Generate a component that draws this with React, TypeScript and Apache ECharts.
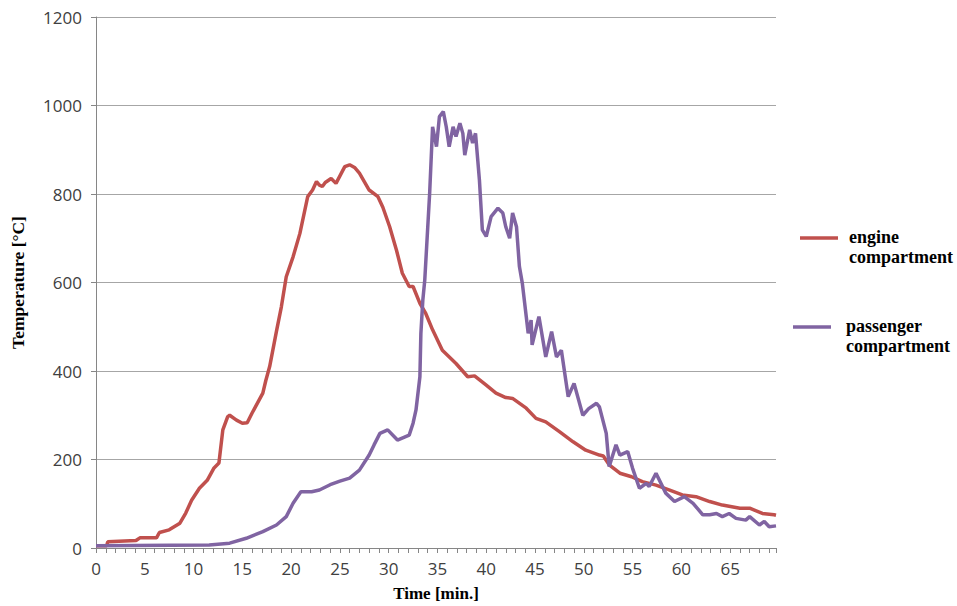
import React, { useEffect, useRef } from "react";
import * as echarts from "echarts";

const engineTime = [0, 1.1, 1.2, 4.1, 4.5, 6.2, 6.5, 7.5, 8.6, 9.2, 9.8, 10.6, 11.4, 12.1, 12.6, 13.0, 13.5, 13.7, 14.4, 15.0, 15.5, 16.0, 17.1, 17.4, 17.8, 18.5, 19.0, 19.5, 20.2, 20.9, 21.7, 22.2, 22.6, 22.9, 23.2, 23.5, 24.1, 24.6, 25.5, 26.0, 26.5, 27.0, 28.0, 28.9, 29.4, 30.1, 30.8, 31.4, 32.1, 32.5, 33.2, 33.8, 34.5, 35.5, 36.9, 38.1, 38.8, 40.0, 41.0, 42.0, 42.7, 44.1, 45.1, 46.1, 47.5, 48.9, 50.2, 51.6, 52.0, 52.6, 53.7, 54.9, 56.0, 57.4, 58.8, 60.1, 61.5, 62.9, 64.2, 66.0, 67.0, 68.3, 69.5, 69.7];
const engineTemp = [5, 5, 14, 17, 23, 23, 35, 41, 56, 79, 108, 135, 153, 181, 192, 267, 297, 300, 289, 282, 283, 305, 350, 378, 410, 490, 545, 613, 658, 711, 794, 809, 828, 820, 817, 826, 835, 824, 862, 866, 860, 847, 809, 794, 770, 726, 673, 621, 591, 591, 553, 530, 493, 447, 417, 387, 389, 368, 350, 340, 338, 316, 293, 285, 263, 240, 221, 210, 208, 188, 169, 161, 150, 142, 131, 120, 116, 105, 97, 90, 90, 78, 75, 74];

const passengerTime = [0, 11.6, 13.7, 15.4, 17.1, 18.5, 19.5, 20.2, 21.0, 22.1, 22.9, 24.0, 25.0, 26.0, 27.0, 28.0, 28.5, 29.1, 29.9, 30.9, 32.1, 32.5, 32.8, 33.2, 33.3, 33.5, 33.7, 34.2, 34.5, 34.9, 35.2, 35.6, 35.9, 36.2, 36.6, 36.9, 37.3, 37.6, 37.8, 38.3, 38.6, 38.9, 39.3, 39.6, 40.0, 40.5, 41.2, 41.7, 42.0, 42.4, 42.7, 43.1, 43.4, 43.7, 44.1, 44.3, 44.6, 44.7, 45.4, 46.1, 46.7, 47.2, 47.7, 48.4, 49.0, 49.9, 50.5, 51.3, 51.6, 52.3, 52.6, 53.3, 53.7, 54.5, 55.0, 55.7, 56.4, 56.7, 57.4, 58.4, 59.3, 60.3, 61.2, 62.2, 62.9, 63.6, 64.2, 64.9, 65.6, 66.6, 67.0, 68.0, 68.5, 69.0, 69.7];
const passengerTemp = [5, 7, 11, 22, 37, 52, 71, 101, 127, 127, 131, 143, 151, 158, 176, 210, 233, 259, 267, 244, 255, 282, 312, 387, 485, 560, 606, 802, 952, 907, 975, 986, 952, 907, 952, 930, 960, 937, 888, 945, 915, 937, 832, 719, 704, 749, 768, 757, 726, 700, 757, 726, 636, 598, 523, 485, 515, 459, 523, 432, 489, 432, 447, 342, 372, 300, 315, 327, 319, 259, 184, 233, 210, 218, 180, 135, 146, 139, 169, 124, 105, 116, 101, 75, 75, 78, 71, 78, 67, 63, 71, 52, 60, 48, 50];

const seriesNames = ["engine\ncompartment", "passenger\ncompartment"];
const xMax = 69.7;
const yTicks = [0, 1200, 200];

const RED = "#c0504d";
const PURPLE = "#8064a2";

export default function App() {
  const ref = useRef<HTMLDivElement>(null);
  useEffect(() => {
    if (!ref.current) return;
    const chart = echarts.init(ref.current, null, { renderer: "svg" });
    const serif = "'Liberation Serif', 'Times New Roman', serif";
    const sans = "'Open Sans', sans-serif";
    chart.setOption({
      animation: false,
      backgroundColor: "#ffffff",
      grid: { left: 96, right: 181, top: 17, bottom: 58, outerBoundsMode: "none", containLabel: false },
      xAxis: {
        type: "value",
        min: 0,
        max: xMax,
        interval: 5,
        name: "Time [min.]",
        nameLocation: "middle",
        nameGap: 37,
        nameTextStyle: { fontFamily: serif, fontWeight: "bold", fontSize: 17, color: "#000" },
        axisLine: { show: true, lineStyle: { color: "#868686", width: 1 } },
        axisTick: { show: true, length: 5, lineStyle: { color: "#868686" } },
        minorTick: { show: true, splitNumber: 5, length: 5, lineStyle: { color: "#868686" } },
        axisLabel: {
          fontFamily: sans,
          fontSize: 17,
          color: "#404040",
          margin: 12,
          showMaxLabel: false,
          formatter: (v: number) => String(v),
        },
        splitLine: { show: false },
      },
      yAxis: {
        type: "value",
        min: yTicks[0],
        max: yTicks[1],
        interval: yTicks[2],
        name: "Temperature [°C]",
        nameLocation: "middle",
        nameGap: 69,
        nameTextStyle: { fontFamily: serif, fontWeight: "bold", fontSize: 17.5, color: "#000" },
        axisLine: { show: true, lineStyle: { color: "#868686", width: 1 } },
        axisTick: { show: true, length: 5, lineStyle: { color: "#868686" } },
        axisLabel: {
          fontFamily: sans,
          fontSize: 17,
          color: "#404040",
          margin: 14,
          formatter: (v: number) => String(v),
        },
        splitLine: { show: true, lineStyle: { color: "#a6a6a6", width: 1 } },
      },
      series: [
        {
          name: seriesNames[0],
          type: "line",
          data: engineTime.map((t, i) => [t, engineTemp[i]]),
          showSymbol: false,
          lineStyle: { color: RED, width: 3.5 },
          itemStyle: { color: RED },
        },
        {
          name: seriesNames[1],
          type: "line",
          data: passengerTime.map((t, i) => [t, passengerTemp[i]]),
          showSymbol: false,
          lineStyle: { color: PURPLE, width: 3.5 },
          itemStyle: { color: PURPLE },
        },
      ],
      graphic: [
        { type: "line", shape: { x1: 800, y1: 238, x2: 838, y2: 238 }, style: { stroke: RED, lineWidth: 3.5 } },
        {
          type: "text",
          x: 849,
          y: 227,
          style: { text: seriesNames[0], font: `bold 18px ${serif}`, fill: "#000", lineHeight: 20 },
        },
        { type: "line", shape: { x1: 793, y1: 327, x2: 831, y2: 327 }, style: { stroke: PURPLE, lineWidth: 3.5 } },
        {
          type: "text",
          x: 846,
          y: 316,
          style: { text: seriesNames[1], font: `bold 18px ${serif}`, fill: "#000", lineHeight: 20 },
        },
      ],
    });
    return () => chart.dispose();
  }, []);
  return <div ref={ref} style={{ width: 957, height: 606, position: "absolute", left: 0, top: 0 }} />;
}
